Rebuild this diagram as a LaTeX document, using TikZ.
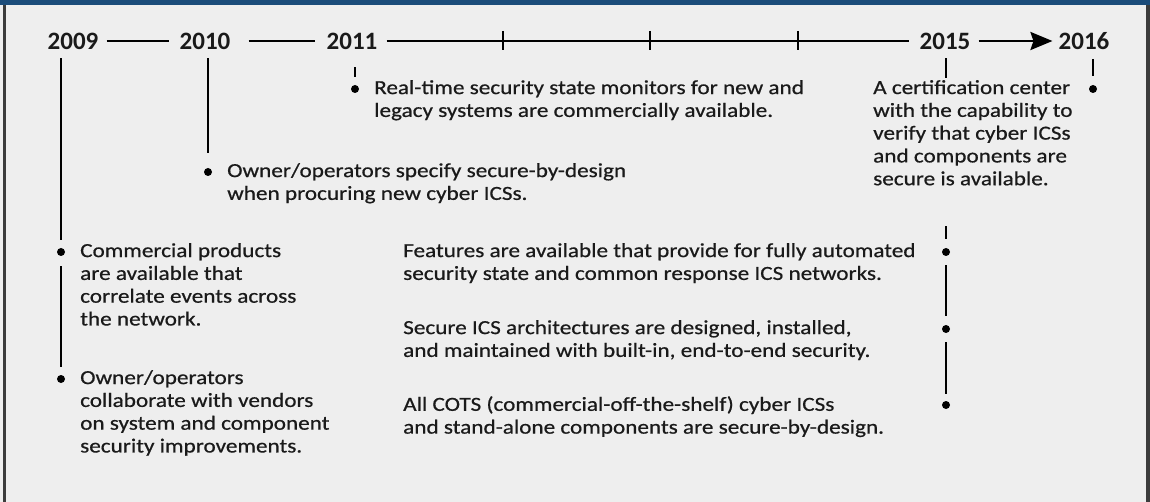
\documentclass[tikz,border=0pt]{standalone}
\usepackage{fontspec}
\setmainfont{Carlito}
\newfontfamily\bodyfont[FakeStretch=1.16, FakeBold=0.6]{Carlito}
\usetikzlibrary{arrows.meta}
\definecolor{bandblue}{HTML}{1B4C7A}
\definecolor{framegray}{HTML}{3C3C3C}
\definecolor{panelgray}{HTML}{EEEEEE}
\definecolor{inkgray}{HTML}{1A1A1A}
\tikzset{
  year/.style={font=\fontsize{25}{30}\selectfont\bfseries, text=inkgray, inner sep=0pt},
  itemtext/.style={font=\bodyfont\fontsize{20}{22.8}\selectfont, text=inkgray, align=left,
    anchor=north west, inner sep=0pt, execute at begin node=\strut},
  bulletdot/.style={circle, fill=black, inner sep=0pt, minimum size=8pt},
  timeline/.style={line width=2.5pt},
  stem/.style={line width=2.8pt},
}
\begin{document}
\begin{tikzpicture}[x=1pt, y=-1pt]
    % panel and frame
    \fill[panelgray] (0,0) rectangle (1150,502);
    \fill[bandblue] (0,0) rectangle (1150,5);
    \fill[framegray] (3,5) rectangle (6,502);
    \fill[framegray] (1146,5) rectangle (1150,502);
    \useasboundingbox (0,0) rectangle (1150,502);

    % years
    \node[year] at (73,41)   (y2009) {2009};
    \node[year] at (205,41)  (y2010) {2010};
    \node[year] at (352,41)  (y2011) {2011};
    \node[year] at (945,41)  (y2015) {2015};
    \node[year] at (1084,41) (y2016) {2016};

    % bullets
    \node[bulletdot] at (61,252)   (b9a) {};
    \node[bulletdot] at (61,379)   (b9b) {};
    \node[bulletdot] at (208,172)  (b10) {};
    \node[bulletdot] at (355,89)   (b11) {};
    \node[bulletdot] at (946,252)  (b15a) {};
    \node[bulletdot] at (946,329)  (b15b) {};
    \node[bulletdot] at (946,405)  (b15c) {};
    \node[bulletdot] at (1093,89)  (b16) {};

    % texts
    \node[itemtext] at (80,243)  (t9a) {Commercial products\\are available that\\correlate events across\\the network.};
    \node[itemtext] at (80,370)  (t9b) {Owner/operators\\collaborate with vendors\\on system and component\\security improvements.};
    \node[itemtext] at (227,163) (t10) {Owner/operators specify secure-by-design\\when procuring new cyber ICSs.};
    \node[itemtext] at (374,80)  (t11) {Real-time security state monitors for new and\\legacy systems are commercially available.};
    \node[itemtext] at (873,80)  (t15) {A certification center\\with the capability to\\verify that cyber ICSs\\and components are\\secure is available.};
    \node[itemtext] at (403,243) (t15a) {Features are available that provide for fully automated\\security state and common response ICS networks.};
    \node[itemtext] at (403,320) (t15b) {Secure ICS architectures are designed, installed,\\and maintained with built-in, end-to-end security.};
    \node[itemtext] at (403,396) (t15c) {All COTS (commercial-off-the-shelf) cyber ICSs\\and stand-alone components are secure-by-design.};

    % time line
    \draw[timeline, shorten <=8pt, shorten >=10pt] (y2009) -- (y2010);
    \draw[timeline, shorten <=18pt, shorten >=11pt] (y2010) -- (y2011);
    \draw[timeline, shorten <=9pt, shorten >=10pt] (y2011) -- (y2015);
    \draw[timeline, -{Stealth[length=22pt, width=18pt, inset=3pt]}, shorten <=8pt, shorten >=6pt] (y2015) -- (y2016);
    \foreach \tx in {503,650,798}
        \draw[stem] (\tx,31) -- (\tx,50);

    % stems
    \draw[stem, shorten <=9pt, shorten >=8pt] (y2009.south -| b9a) -- (b9a);
    \draw[stem, shorten <=10pt, shorten >=8pt] (b9a) -- (b9b);
    \draw[stem, shorten <=9pt, shorten >=15pt] (y2010.south -| b10) -- (b10);
    \draw[stem, shorten <=18pt, shorten >=8pt] (y2011.south -| b11) -- (b11);
    \draw[stem, shorten <=9pt, shorten >=2pt] (y2015.south -| b15a) -- (t15.north -| b15a);
    \draw[stem, shorten <=34pt, shorten >=9pt] (t15.south -| b15a) -- (b15a);
    \draw[stem, shorten <=9pt, shorten >=9pt] (b15a) -- (b15b);
    \draw[stem, shorten <=9pt, shorten >=7pt] (b15b) -- (b15c);
    \draw[stem, shorten <=9pt, shorten >=9pt] (y2016.south -| b16) -- (b16);
\end{tikzpicture}
\end{document}
